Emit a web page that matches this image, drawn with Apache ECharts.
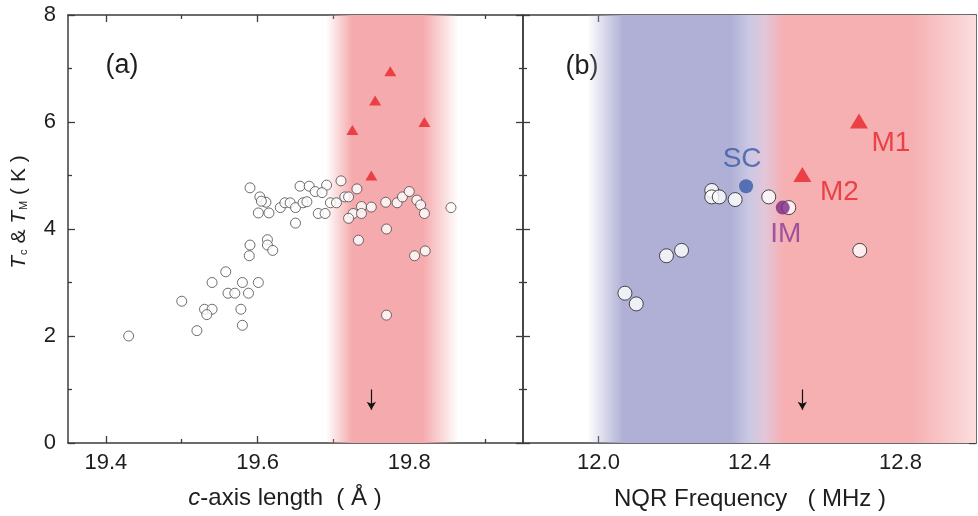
<!DOCTYPE html>
<html>
<head>
<meta charset="utf-8">
<script src="https://cdn.jsdelivr.net/npm/echarts@6/dist/echarts.min.js"></script>
<style>html,body{margin:0;padding:0;background:#fff}#c{width:978px;height:516px}</style>
</head>
<body>
<div id="c"></div>
<script>
// ---------- data ----------
const aCircleX = [19.43,19.50,19.52,19.53,19.54,19.533,19.54,19.558,19.561,19.57,19.58,19.588,19.578,19.58,19.601,19.589,19.59,19.613,19.613,19.62,
  19.59,19.603,19.611,19.605,19.601,19.615,19.63,19.636,19.643,19.65,19.65,19.656,19.668,19.691,19.71,19.731,19.676,19.685,19.715,19.72,
  19.66,19.665,19.696,19.704,19.68,19.689,19.726,19.72,19.737,19.75,19.737,19.769,19.784,19.791,19.80,19.81,19.815,19.82,19.855,19.77,
  19.733,19.807,19.821,19.77];
const aCircleY = [2.0,2.65,2.1,2.5,2.5,2.4,3.0,3.2,2.8,2.8,3.0,2.8,2.5,2.2,3.0,3.5,3.7,3.8,3.7,3.6,
  4.77,4.6,4.5,4.52,4.3,4.3,4.4,4.49,4.49,4.4,4.11,4.8,4.8,4.82,4.9,4.75,4.7,4.68,4.6,4.6,
  4.49,4.51,4.49,4.49,4.29,4.29,4.29,4.2,4.42,4.41,4.29,4.5,4.49,4.6,4.7,4.54,4.45,4.29,4.4,4.0,
  3.79,3.5,3.59,2.39];
const aTriX = [19.775,19.755,19.725,19.82,19.75];
const aTriY = [6.95,6.4,5.85,6.0,5.0];

const bCircleX = [12.07,12.10,12.18,12.22,12.30,12.30,12.32,12.362,12.451,12.504,12.692];
const bCircleY = [2.8,2.6,3.5,3.6,4.72,4.6,4.6,4.55,4.6,4.4,3.6];
const bNames = ['SC','IM','M2','M1'];
const bNamedX = [12.391,12.488,12.54,12.69];
const bNamedY = [4.8,4.4,5.02,6.02];

const arrowA = [19.75, 1.0, 0.62];
const arrowB = [12.54, 1.0, 0.62];

const aMajor = [19.4,19.6,19.8];
const aMinor = [19.5,19.7,19.9];
const bMajor = [12.0,12.4,12.8];
const bMinor = [12.2,12.6];
const aRange = [19.35,19.95];
const bRange = [11.8,13.0];
const yRange = [0,8];

const bandA = [19.69,19.865];
const bandB = [11.97,13.0];

// ---------- chart ----------
const FONT = '"Liberation Sans", Arial, sans-serif';
const AX = '#3c3c3c';
const TXT = '#1e1e1e';
const zip = (xs, ys) => xs.map((x, i) => [x, ys[i]]);

function xAx(grid, pos, range, vals, len, labels, line) {
  return {
    type: 'value', gridIndex: grid, position: pos, min: range[0], max: range[1],
    axisLine: {show: line, onZero: false, lineStyle: {color: AX, width: 1.5}},
    axisTick: {show: true, inside: true, length: len, customValues: vals, lineStyle: {color: AX, width: 1.3}},
    axisLabel: {show: labels, customValues: vals, margin: 9, color: TXT, fontSize: 22, fontFamily: FONT,
      formatter: v => v.toFixed(1)},
    splitLine: {show: false}
  };
}
function yAx(grid, pos, labels) {
  return {
    type: 'value', gridIndex: grid, position: pos, min: yRange[0], max: yRange[1], interval: 2,
    axisLine: {show: true, onZero: false, lineStyle: {color: AX, width: 1.5}},
    axisTick: {show: true, inside: true, length: 7, lineStyle: {color: AX, width: 1.3}},
    minorTick: {show: true, splitNumber: 2, length: 4, lineStyle: {color: AX, width: 1.3}},
    axisLabel: {show: labels, margin: 12, color: TXT, fontSize: 22, fontFamily: FONT},
    splitLine: {show: false}
  };
}

const grad = stops => ({type: 'linear', x: 0, y: 0, x2: 1, y2: 0, colorStops: stops});
const fracA = v => (v - bandA[0]) / (bandA[1] - bandA[0]);
const fracB = v => (v - bandB[0]) / (bandB[1] - bandB[0]);

const gradA = grad([
  {offset: 0, color: 'rgba(245,170,173,0)'},
  {offset: fracA(19.725), color: 'rgba(245,170,173,1)'},
  {offset: fracA(19.818), color: 'rgba(245,170,173,1)'},
  {offset: 1, color: 'rgba(245,170,173,0)'}
]);
const gradB = grad([
  {offset: 0, color: 'rgba(176,176,214,0)'},
  {offset: fracB(12.065), color: 'rgba(176,176,214,1)'},
  {offset: fracB(12.35), color: 'rgba(176,176,214,1)'},
  {offset: fracB(12.40), color: 'rgba(202,200,226,1)'},
  {offset: fracB(12.44), color: 'rgba(226,198,218,1)'},
  {offset: fracB(12.49), color: 'rgba(246,176,178,1)'},
  {offset: fracB(12.83), color: 'rgba(246,176,178,1)'},
  {offset: 1, color: 'rgba(251,222,223,1)'}
]);

const namedColors = {SC: '#3a5aa8', IM: '#7a2a85', M2: '#e8242a', M1: '#e8242a'};
const labelColors = {SC: '#3a5aa8', IM: '#8a3a98', M2: '#e8242a', M1: '#e8242a'};
const labelOffsets = {SC: [-4, -27], IM: [3, 27], M2: [37, 18], M1: [32, 22]};

const namedData = bNames.map((n, i) => ({
  value: [bNamedX[i], bNamedY[i]],
  symbol: n.startsWith('M') ? 'triangle' : 'circle',
  symbolSize: n.startsWith('M') ? [18, 15] : 14,
  itemStyle: {color: namedColors[n]},
  label: {show: true, position: 'inside', formatter: n, offset: labelOffsets[n],
    color: labelColors[n], fontSize: 28, fontFamily: FONT}
}));

const option = {
  animation: false,
  backgroundColor: '#fff',
  grid: [
    {left: 68, top: 15, width: 455, height: 428},
    {left: 523, top: 15, width: 453, height: 428}
  ],
  xAxis: [
    xAx(0, 'bottom', aRange, aMajor, 7, true, true),
    xAx(0, 'bottom', aRange, aMinor, 4, false, false),
    xAx(0, 'top', aRange, aMajor, 7, false, true),
    xAx(0, 'top', aRange, aMinor, 4, false, false),
    xAx(1, 'bottom', bRange, bMajor, 7, true, true),
    xAx(1, 'bottom', bRange, bMinor, 4, false, false),
    xAx(1, 'top', bRange, bMajor, 7, false, true),
    xAx(1, 'top', bRange, bMinor, 4, false, false)
  ],
  yAxis: [
    yAx(0, 'left', true),
    yAx(0, 'right', false),
    yAx(1, 'left', false),
    yAx(1, 'right', false)
  ],
  series: [
    {type: 'line', xAxisIndex: 0, yAxisIndex: 0, data: [], z: 1, silent: true,
      markArea: {silent: true, itemStyle: {color: gradA}, data: [[{xAxis: bandA[0], yAxis: yRange[0]}, {xAxis: bandA[1], yAxis: yRange[1]}]]},
      markLine: {silent: true, symbol: ['none', 'arrow'], symbolSize: [7, 8], label: {show: false},
        lineStyle: {color: '#111', width: 1.2, type: 'solid'},
        data: [[{coord: [arrowA[0], arrowA[1]]}, {coord: [arrowA[0], arrowA[2]]}]]}},
    {type: 'line', xAxisIndex: 4, yAxisIndex: 2, data: [], z: 1, silent: true,
      markArea: {silent: true, itemStyle: {color: gradB}, data: [[{xAxis: bandB[0], yAxis: yRange[0]}, {xAxis: bandB[1], yAxis: yRange[1]}]]},
      markLine: {silent: true, symbol: ['none', 'arrow'], symbolSize: [7, 8], label: {show: false},
        lineStyle: {color: '#111', width: 1.2, type: 'solid'},
        data: [[{coord: [arrowB[0], arrowB[1]]}, {coord: [arrowB[0], arrowB[2]]}]]}},
    {type: 'scatter', xAxisIndex: 0, yAxisIndex: 0, z: 3, data: zip(aCircleX, aCircleY),
      symbol: 'circle', symbolSize: 10, itemStyle: {color: '#fff', borderColor: '#4a4a4a', borderWidth: 1}},
    {type: 'scatter', xAxisIndex: 0, yAxisIndex: 0, z: 4, data: zip(aTriX, aTriY),
      symbol: 'triangle', symbolSize: [12, 10], itemStyle: {color: '#e8242a'}},
    {type: 'scatter', xAxisIndex: 4, yAxisIndex: 2, z: 3, data: zip(bCircleX, bCircleY),
      symbol: 'circle', symbolSize: 14, itemStyle: {color: '#fff', borderColor: '#222', borderWidth: 1}},
    {type: 'scatter', xAxisIndex: 4, yAxisIndex: 2, z: 5, data: namedData}
  ],
  graphic: [
    {type: 'text', x: 122, y: 66, style: {text: '(a)', fontSize: 27, fontFamily: FONT, fill: TXT, align: 'center', verticalAlign: 'middle'}},
    {type: 'text', x: 582, y: 67, style: {text: '(b)', fontSize: 27, fontFamily: FONT, fill: TXT, align: 'center', verticalAlign: 'middle'}},
    {type: 'text', x: 285, y: 498, style: {text: '{i|c}-axis length  ( Å )', fontSize: 24, fontFamily: FONT, fill: TXT,
      align: 'center', verticalAlign: 'middle', rich: {i: {fontStyle: 'italic', fontSize: 24, fontFamily: FONT, fill: TXT}}}},
    {type: 'text', x: 750, y: 499, style: {text: 'NQR Frequency   ( MHz )', fontSize: 24, fontFamily: FONT, fill: TXT,
      align: 'center', verticalAlign: 'middle'}},
    {type: 'text', x: 19, y: 212, rotation: Math.PI / 2, style: {
      text: '{i|T}{s|c}{n| & }{i|T}{s|M}{n| ( K )}', fontSize: 21, fontFamily: FONT, fill: TXT,
      align: 'center', verticalAlign: 'middle',
      rich: {
        i: {fontStyle: 'italic', fontSize: 21, fontFamily: FONT, fill: TXT},
        s: {fontSize: 11, fontFamily: FONT, fill: TXT, verticalAlign: 'bottom', padding: [0, 0, 0, 1]},
        n: {fontSize: 21, fontFamily: FONT, fill: TXT}
      }}}
  ]
};

const chart = echarts.init(document.getElementById('c'), null, {renderer: 'canvas'});
chart.setOption(option);
</script>
</body>
</html>
